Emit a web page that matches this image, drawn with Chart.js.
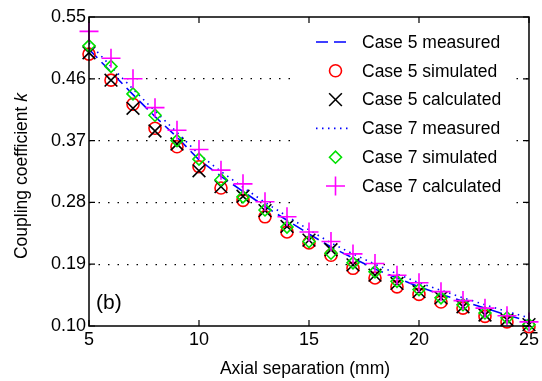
<!DOCTYPE html>
<html><head><meta charset="utf-8">
<script src="https://cdn.jsdelivr.net/npm/chart.js@4/dist/chart.umd.min.js"></script>
<style>html,body{margin:0;padding:0;background:#fff;}canvas{display:block;}</style>
</head><body>
<canvas id="c" width="542" height="381"></canvas>
<script>
// ---- data ----
const separation = [5,6,7,8,9,10,11,12,13,14,15,16,17,18,19,20,21,22,23,24,25];
const case5Measured = [0.503,0.470,0.437,0.405,0.375,0.342,0.318,0.296,0.274,0.254,0.234,0.215,0.199,0.183,0.170,0.157,0.146,0.136,0.126,0.116,0.107];
const case5Simulated = [0.496,0.458,0.423,0.388,0.361,0.332,0.301,0.283,0.259,0.237,0.221,0.203,0.184,0.170,0.157,0.146,0.135,0.126,0.114,0.106,0.099];
const case5Calculated = [0.498,0.458,0.417,0.384,0.365,0.326,0.303,0.289,0.268,0.245,0.225,0.211,0.189,0.174,0.162,0.150,0.141,0.128,0.116,0.109,0.102];
const case7Measured = [0.512,0.478,0.445,0.413,0.382,0.350,0.325,0.302,0.280,0.260,0.240,0.221,0.205,0.190,0.176,0.163,0.152,0.141,0.131,0.121,0.112];
const case7Simulated = [0.508,0.478,0.438,0.407,0.370,0.343,0.313,0.288,0.269,0.244,0.223,0.206,0.192,0.179,0.165,0.153,0.141,0.131,0.119,0.112,0.102];
const case7Calculated = [0.529,0.490,0.460,0.418,0.385,0.357,0.327,0.307,0.281,0.259,0.237,0.223,0.205,0.191,0.174,0.163,0.150,0.137,0.126,0.115,0.106];
const yTickValues = [0.10,0.19,0.28,0.37,0.46,0.55];
const xTickValues = [5,10,15,20,25];
const seriesLabels = ["Case 5 measured","Case 5 simulated","Case 5 calculated","Case 7 measured","Case 7 simulated","Case 7 calculated"];
const xTitle = "Axial separation (mm)";
const yTitleMain = "Coupling coefficient ";
const yTitleItalic = "k";
const panelLabel = "(b)";

const FONT = '"Liberation Sans", Arial, Helvetica, sans-serif';
const pts = arr => separation.map((x,i)=>({x:x,y:arr[i]}));

const styles = [
  {kind:'line', color:'#0000ff', dash:[12,6]},
  {kind:'marker', color:'#ff0000', style:'circle', r:6},
  {kind:'marker', color:'#000000', style:'crossRot', r:9},
  {kind:'line', color:'#0000ff', dash:[1.5,4.5]},
  {kind:'marker', color:'#00e000', style:'rectRot', r:6},
  {kind:'marker', color:'#ff00ff', style:'cross', r:9.5}
];
const seriesData = [case5Measured,case5Simulated,case5Calculated,case7Measured,case7Simulated,case7Calculated];

const datasets = seriesData.map((arr,i)=>{
  const s = styles[i];
  if (s.kind==='line') return {
    label: seriesLabels[i], data: pts(arr), showLine:true, borderColor:s.color, borderWidth:1.6,
    borderDash:s.dash, pointRadius:0, fill:false, tension:0, order: 10-i
  };
  return {
    label: seriesLabels[i], data: pts(arr), showLine:false, pointStyle:s.style, pointRadius:s.r,
    pointBorderColor:s.color, pointBackgroundColor:'rgba(0,0,0,0)', pointBorderWidth:1.6,
    clip:false, order:10-i
  };
});

function drawMarker(ctx, style, x, y, r, color){
  ctx.save(); ctx.strokeStyle=color; ctx.lineWidth=1.6; ctx.beginPath();
  if (style==='circle'){ ctx.arc(x,y,r,0,Math.PI*2); }
  else if (style==='crossRot'){ const d=r*Math.SQRT1_2; ctx.moveTo(x-d,y-d);ctx.lineTo(x+d,y+d);ctx.moveTo(x+d,y-d);ctx.lineTo(x-d,y+d); }
  else if (style==='rectRot'){ ctx.moveTo(x-r,y);ctx.lineTo(x,y-r);ctx.lineTo(x+r,y);ctx.lineTo(x,y+r);ctx.closePath(); }
  else if (style==='cross'){ ctx.moveTo(x-r,y);ctx.lineTo(x+r,y);ctx.moveTo(x,y-r);ctx.lineTo(x,y+r); }
  ctx.stroke(); ctx.restore();
}

const decor = {
  id:'decor',
  afterDatasetsDraw(chart){
    const ctx = chart.ctx;
    ctx.save();
    ctx.fillStyle='#ffffff';
    ctx.fillRect(292,19,221,189);
    ctx.font = '17.5px '+FONT; ctx.fillStyle='#000'; ctx.textBaseline='middle'; ctx.textAlign='left';
    seriesLabels.forEach((lab,i)=>{
      const y = 42 + i*28.8;
      const s = styles[i];
      if (s.kind==='line'){
        ctx.save(); ctx.strokeStyle=s.color; ctx.lineWidth=1.6; ctx.setLineDash(s.dash);
        ctx.beginPath(); ctx.moveTo(316,y); ctx.lineTo(349,y); ctx.stroke(); ctx.restore();
      } else {
        drawMarker(ctx, s.style, 335.5, y, s.r, s.color);
      }
      ctx.fillText(lab, 362, y+1);
    });
    ctx.restore();
  },
  afterDraw(chart){
    const ctx = chart.ctx, a = chart.chartArea;
    const xs = chart.scales.x, ys = chart.scales.y;
    ctx.save();
    ctx.strokeStyle='#000'; ctx.lineWidth=1.5;
    ctx.strokeRect(a.left, a.top, a.right-a.left, a.bottom-a.top);
    ctx.lineWidth=1.2; ctx.beginPath();
    xTickValues.forEach(v=>{ const px=xs.getPixelForValue(v);
      ctx.moveTo(px,a.bottom); ctx.lineTo(px,a.bottom-6);
      ctx.moveTo(px,a.top); ctx.lineTo(px,a.top+6); });
    yTickValues.forEach(v=>{ const py=ys.getPixelForValue(v);
      ctx.moveTo(a.left,py); ctx.lineTo(a.left+6,py);
      ctx.moveTo(a.right,py); ctx.lineTo(a.right-6,py); });
    ctx.stroke();
    ctx.fillStyle='#000'; ctx.font='17.5px '+FONT; ctx.textAlign='center'; ctx.textBaseline='middle';
    ctx.fillText(xTitle, (a.left+a.right)/2 - 4, 369);
    ctx.save();
    ctx.translate(22, 176); ctx.rotate(-Math.PI/2);
    ctx.font='17.5px '+FONT; const w1 = ctx.measureText(yTitleMain).width;
    ctx.font='italic 17.5px '+FONT; const w2 = ctx.measureText(yTitleItalic).width;
    ctx.textAlign='left';
    ctx.font='17.5px '+FONT; ctx.fillText(yTitleMain, -(w1+w2)/2, 0);
    ctx.font='italic 17.5px '+FONT; ctx.fillText(yTitleItalic, -(w1+w2)/2 + w1, 0);
    ctx.restore();
    ctx.font='21px '+FONT; ctx.textAlign='left'; ctx.textBaseline='middle';
    ctx.fillText(panelLabel, 96, 303);
    ctx.restore();
  }
};

new Chart(document.getElementById('c'), {
  type:'scatter',
  data:{datasets:datasets},
  options:{
    responsive:false, animation:false, devicePixelRatio:1,
    layout:{padding:{top:17,right:11,left:0,bottom:0}},
    plugins:{legend:{display:false}, tooltip:{enabled:false}},
    scales:{
      x:{type:'linear', min:5, max:25,
        afterBuildTicks: s => { s.ticks = xTickValues.map(v=>({value:v})); },
        afterFit: s => { s.height = 55; },
        ticks:{font:{family:FONT,size:18}, color:'#000', padding:3},
        grid:{display:false, drawTicks:false}, border:{display:false}},
      y:{type:'linear', min:0.10, max:0.55,
        afterBuildTicks: s => { s.ticks = yTickValues.map(v=>({value:v})); },
        afterFit: s => { s.width = 89; },
        ticks:{font:{family:FONT,size:18}, color:'#000', padding:3, callback:v=>Number(v).toFixed(2)},
        grid:{drawTicks:false, lineWidth:1.2,
          color: c => (c.tick && (Math.abs(c.tick.value-0.10)<1e-6 || Math.abs(c.tick.value-0.55)<1e-6)) ? 'rgba(0,0,0,0)' : '#000'},
        border:{display:false, dash:[1.5,8]}}
    }
  },
  plugins:[decor]
});
</script>
</body></html>
